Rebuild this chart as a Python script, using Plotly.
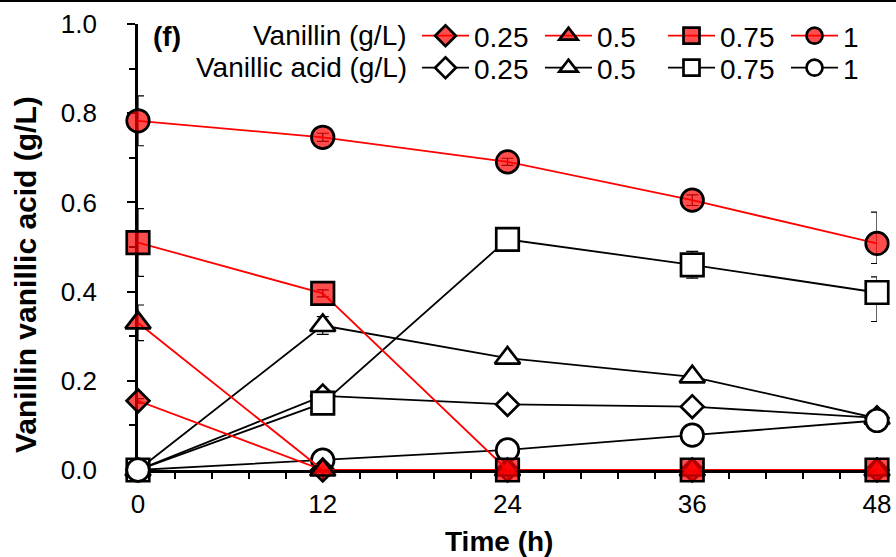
import plotly.graph_objects as go

# ---------------- data ----------------
time_h = [0, 12, 24, 36, 48]

vanillin_025 = [0.155, 0.0, 0.0, 0.0, 0.0]
vanillin_05 = [0.330, 0.0, 0.0, 0.0, 0.0]
vanillin_075 = [0.510, 0.396, 0.0, 0.0, 0.0]
vanillin_1 = [0.783, 0.746, 0.691, 0.605, 0.508]

vacid_025 = [0.0, 0.166, 0.147, 0.142, 0.117]
vacid_05 = [0.0, 0.324, 0.251, 0.209, 0.116]
vacid_075 = [0.0, 0.150, 0.517, 0.460, 0.398]
vacid_1 = [0.0, 0.022, 0.045, 0.078, 0.111]

vanillin_025_err = [0.005, 0.0, 0.0, 0.0, 0.0]
vanillin_05_err = [0.040, 0.0, 0.0, 0.0, 0.0]
vanillin_075_err = [0.076, 0.008, 0.0, 0.0, 0.0]
vanillin_1_err_plus = [0.056, 0.009, 0.008, 0.012, 0.070]
vanillin_1_err_minus = [0.056, 0.009, 0.008, 0.012, 0.045]

vacid_025_err = [0.0, 0.010, 0.004, 0.004, 0.005]
vacid_05_err = [0.0, 0.020, 0.005, 0.005, 0.005]
vacid_075_err_plus = [0.0, 0.010, 0.025, 0.030, 0.035]
vacid_075_err_minus = [0.0, 0.010, 0.025, 0.030, 0.065]
vacid_1_err = [0.0, 0.004, 0.008, 0.005, 0.005]

labels = ["0.25", "0.5", "0.75", "1"]
y_ticks = [0.0, 0.2, 0.4, 0.6, 0.8, 1.0]
x_ticks = [0, 12, 24, 36, 48]

# ---------------- style ----------------
FONT = "Liberation Sans, Arial, sans-serif"
RED_FILL = "rgba(255,0,0,0.70)"
symbols = ["diamond", "triangle-up", "square", "circle"]
sizes = [17.5, 22, 22.5, 22.5]

fig = go.Figure()

vacid_series = [
    (vacid_025, dict(array=vacid_025_err)),
    (vacid_05, dict(array=vacid_05_err)),
    (vacid_075, dict(array=vacid_075_err_plus, arrayminus=vacid_075_err_minus)),
    (vacid_1, dict(array=vacid_1_err)),
]
vanillin_series = [
    (vanillin_025, dict(array=vanillin_025_err)),
    (vanillin_05, dict(array=vanillin_05_err)),
    (vanillin_075, dict(array=vanillin_075_err)),
    (vanillin_1, dict(array=vanillin_1_err_plus, arrayminus=vanillin_1_err_minus)),
]

for i, (vals, err) in enumerate(vacid_series):
    fig.add_trace(go.Scatter(
        x=time_h, y=vals, name=labels[i], legend="legend2",
        mode="lines+markers", cliponaxis=False,
        line=dict(color="black", width=1.8),
        marker=dict(symbol=symbols[i], size=sizes[i], color="white",
                    line=dict(color="black", width=2.7)),
        error_y=dict(type="data", symmetric=("arrayminus" not in err), color="black",
                     thickness=1.2, width=6, **err),
    ))

for i, (vals, err) in enumerate(vanillin_series):
    fig.add_trace(go.Scatter(
        x=time_h, y=vals, name=labels[i], legend="legend",
        mode="lines+markers", cliponaxis=False,
        line=dict(color="#ff0000", width=1.8),
        marker=dict(symbol=symbols[i], size=sizes[i], color=RED_FILL,
                    line=dict(color="black", width=2.7)),
        error_y=dict(type="data", symmetric=("arrayminus" not in err), color="black",
                     thickness=1.2, width=6, **err),
    ))

legend_common = dict(
    orientation="h", xanchor="left", yanchor="middle",
    font=dict(family=FONT, size=28, color="black"),
    bgcolor="rgba(0,0,0,0)", borderwidth=0,
    itemwidth=47, entrywidth=61, traceorder="normal",
)

L, R, T, B = 138, 19, 24, 87
W, H = 896, 557
PW, PH = W - L - R, H - T - B


def px_x(px):
    return (px - L) / PW


def px_y(py):
    return (H - B - py) / PH


fig.update_layout(
    width=W, height=H,
    margin=dict(l=L, r=R, t=T, b=B, pad=0, autoexpand=False),
    paper_bgcolor="white", plot_bgcolor="white",
    font=dict(family=FONT, size=26, color="black"),
    showlegend=True,
    legend=dict(x=px_x(417), y=px_y(36), **legend_common),
    legend2=dict(x=px_x(417), y=px_y(68), **legend_common),
    xaxis=dict(
        range=[0, 48], tickvals=x_ticks, ticktext=[str(v) for v in x_ticks],
        showgrid=False, zeroline=False, showline=True, linecolor="black",
        linewidth=2.7, ticks="outside", ticklen=7, tickwidth=2, tickcolor="black",
        minor=dict(dtick=2.4, tick0=0, ticks="outside", ticklen=6, tickwidth=2,
                   tickcolor="black", showgrid=False),
        tickfont=dict(family=FONT, size=26, color="black"),
        ticklabelstandoff=2, layer="below traces",
    ),
    yaxis=dict(
        range=[0, 1.0], tickvals=y_ticks, ticktext=[f"{v:.1f}" for v in y_ticks],
        showgrid=False, zeroline=False, showline=True, linecolor="black",
        linewidth=2.7, ticks="outside", ticklen=8, tickwidth=2, tickcolor="black",
        minor=dict(dtick=0.1, tick0=0, ticks="outside", ticklen=6, tickwidth=2,
                   tickcolor="black", showgrid=False),
        tickfont=dict(family=FONT, size=26, color="black"),
        ticklabelstandoff=25, layer="below traces",
    ),
    annotations=[
        dict(text="<b>Time (h)</b>", xref="paper", yref="paper",
             x=px_x(499), y=px_y(541), xanchor="center", yanchor="middle",
             showarrow=False, font=dict(family=FONT, size=28, color="black")),
        dict(text="<b>Vanillin vanillic acid (g/L)</b>", xref="paper", yref="paper",
             x=px_x(25), y=px_y(275), xanchor="center", yanchor="middle",
             textangle=-90, showarrow=False,
             font=dict(family=FONT, size=30, color="black")),
        dict(text="<b>(f)</b>", xref="paper", yref="paper",
             x=px_x(151), y=px_y(37), xanchor="left", yanchor="middle",
             showarrow=False, font=dict(family=FONT, size=28, color="black")),
        dict(text="Vanillin (g/L)", xref="paper", yref="paper",
             x=px_x(409), y=px_y(36), xanchor="right", yanchor="middle",
             showarrow=False, font=dict(family=FONT, size=28, color="black")),
        dict(text="Vanillic acid (g/L)", xref="paper", yref="paper",
             x=px_x(409), y=px_y(68), xanchor="right", yanchor="middle",
             showarrow=False, font=dict(family=FONT, size=28, color="black")),
    ],
    shapes=[
        dict(type="line", xref="paper", yref="paper",
             x0=px_x(0), x1=px_x(W), y0=px_y(1), y1=px_y(1),
             line=dict(color="black", width=2)),
    ],
)

fig.write_html("out.html")
